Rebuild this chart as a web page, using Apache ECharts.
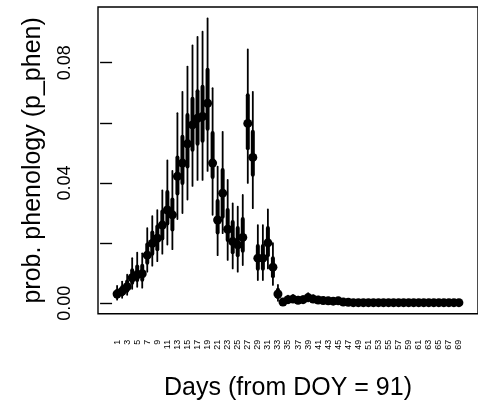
<!DOCTYPE html>
<html>
<head>
<meta charset="utf-8">
<script src="https://cdn.jsdelivr.net/npm/echarts@6/dist/echarts.min.js"></script>
<style>
html,body{margin:0;padding:0;background:#fff;}
#chart{width:478px;height:410px;}
</style>
</head>
<body>
<div id="chart"></div>
<script>
const days = [1,2,3,4,5,6,7,8,9,10,11,12,13,14,15,16,17,18,19,20,21,22,23,24,25,26,27,28,29,30,31,32,33,34,35,36,37,38,39,40,41,42,43,44,45,46,47,48,49,50,51,52,53,54,55,56,57,58,59,60,61,62,63,64,65,66,67,68,69];
const xTickLabels = [1,3,5,7,9,11,13,15,17,19,21,23,25,27,29,31,33,35,37,39,41,43,45,47,49,51,53,55,57,59,61,63,65,67,69];
const yTicks = [0, 0.02, 0.04, 0.06, 0.08];
const yTickLabels = [0, 0.04, 0.08];

const pPhen = [0.0031,0.0040,0.0055,0.0085,0.0095,0.0098,0.0160,0.0199,0.0216,0.0260,
  0.0310,0.0294,0.0422,0.0466,0.0530,0.0593,0.0615,0.0621,0.0665,0.0466,
  0.0277,0.0366,0.0246,0.0205,0.0194,0.0219,0.0598,0.0485,0.0150,0.0150,
  0.0201,0.0120,0.0031,0.0004,0.0012,0.0014,0.0010,0.0012,0.0019,0.0014,
  0.0011,0.0009,0.0008,0.0007,0.0008,0.0004,0.0003,0.0002,0.0002,0.0002,
  0.0002,0.0002,0.0002,0.0002,0.0002,0.0002,0.0002,0.0002,0.0002,0.0002,
  0.0002,0.0002,0.0002,0.0002,0.0002,0.0002,0.0002,0.0002,0.0002];

const outerLo = [0.0012,0.0018,0.0028,0.0048,0.0055,0.0052,0.0105,0.0125,0.0140,0.0165,
  0.0195,0.0180,0.0280,0.0300,0.0345,0.0390,0.0410,0.0410,0.0440,0.0294,
  0.0160,0.0233,0.0144,0.0116,0.0105,0.0127,0.0400,0.0316,0.0077,0.0077,
  0.0116,0.0061,0.0008,0.0001,0.0003,0.0004,0.0003,0.0003,0.0006,0.0004,
  0.0003,0.0002,0.0002,0.0002,0.0002,0.0001,0.0000,0.0000,0.0000,0.0000,
  0.0000,0.0000,0.0000,0.0000,0.0000,0.0000,0.0000,0.0000,0.0000,0.0000,
  0.0000,0.0000,0.0000,0.0000,0.0000,0.0000,0.0000,0.0000,0.0000];

const outerHi = [0.0058,0.0072,0.0095,0.0150,0.0168,0.0166,0.0250,0.0290,0.0310,0.0375,
  0.0475,0.0440,0.0632,0.0703,0.0787,0.0857,0.0886,0.0903,0.0947,0.0715,
  0.0454,0.0570,0.0410,0.0332,0.0321,0.0360,0.0844,0.0703,0.0260,0.0260,
  0.0312,0.0200,0.0061,0.0012,0.0025,0.0028,0.0022,0.0024,0.0034,0.0027,
  0.0022,0.0018,0.0016,0.0015,0.0016,0.0009,0.0006,0.0005,0.0005,0.0005,
  0.0005,0.0005,0.0005,0.0005,0.0005,0.0005,0.0005,0.0005,0.0005,0.0005,
  0.0005,0.0005,0.0005,0.0005,0.0005,0.0005,0.0005,0.0005,0.0005];

const innerLo = [0.0022,0.0029,0.0042,0.0068,0.0077,0.0078,0.0135,0.0165,0.0180,0.0215,
  0.0265,0.0245,0.0365,0.0400,0.0455,0.0510,0.0530,0.0540,0.0580,0.0420,
  0.0235,0.0288,0.0210,0.0170,0.0160,0.0175,0.0515,0.0427,0.0115,0.0115,
  0.0160,0.0090,0.0020,0.0002,0.0007,0.0008,0.0006,0.0007,0.0012,0.0008,
  0.0006,0.0005,0.0004,0.0004,0.0004,0.0002,0.0001,0.0001,0.0001,0.0001,
  0.0001,0.0001,0.0001,0.0001,0.0001,0.0001,0.0001,0.0001,0.0001,0.0001,
  0.0001,0.0001,0.0001,0.0001,0.0001,0.0001,0.0001,0.0001,0.0001];

const innerHi = [0.0042,0.0053,0.0072,0.0110,0.0122,0.0125,0.0195,0.0235,0.0255,0.0305,
  0.0370,0.0345,0.0485,0.0554,0.0626,0.0680,0.0705,0.0720,0.0776,0.0566,
  0.0340,0.0443,0.0310,0.0270,0.0250,0.0280,0.0692,0.0570,0.0190,0.0190,
  0.0250,0.0150,0.0045,0.0007,0.0018,0.0020,0.0015,0.0017,0.0025,0.0019,
  0.0015,0.0013,0.0011,0.0010,0.0011,0.0006,0.0004,0.0003,0.0003,0.0003,
  0.0003,0.0003,0.0003,0.0003,0.0003,0.0003,0.0003,0.0003,0.0003,0.0003,
  0.0003,0.0003,0.0003,0.0003,0.0003,0.0003,0.0003,0.0003,0.0003];

const seriesData = days.map((d, i) => [d, pPhen[i], outerLo[i], outerHi[i], innerLo[i], innerHi[i]]);

const chart = echarts.init(document.getElementById('chart'), null, {renderer: 'canvas'});
const FONT = '"Liberation Sans", Arial, Helvetica, sans-serif';

chart.setOption({
  animation: false,
  backgroundColor: '#fff',
  grid: {
    left: 98, top: 7, right: -5.6, bottom: 96.2,
    show: true, borderColor: '#000', borderWidth: 1.4, backgroundColor: 'transparent'
  },
  xAxis: {
    type: 'value',
    min: -2.8, max: 72.8,
    name: 'Days (from DOY = 91)',
    nameLocation: 'middle',
    nameGap: 62,
    nameTextStyle: {fontFamily: FONT, fontSize: 25, color: '#000'},
    axisLine: {show: false},
    splitLine: {show: false},
    axisTick: {show: false, customValues: xTickLabels},
    axisLabel: {
      customValues: xTickLabels,
      rotate: 90,
      margin: 26,
      fontFamily: FONT, fontSize: 9, color: '#000',
      formatter: v => String(v)
    }
  },
  yAxis: {
    type: 'value',
    min: -0.0035, max: 0.0985,
    name: 'prob. phenology (p_phen)',
    nameLocation: 'middle',
    nameGap: 52,
    nameTextStyle: {fontFamily: FONT, fontSize: 25, color: '#000'},
    axisLine: {show: false},
    splitLine: {show: false},
    axisTick: {show: true, customValues: yTicks, length: 12, lineStyle: {color: '#000', width: 1.4}},
    axisLabel: {
      customValues: yTickLabels,
      rotate: 90,
      margin: 24,
      fontFamily: FONT, fontSize: 18, color: '#000',
      formatter: v => v.toFixed(2)
    }
  },
  series: [{
    type: 'custom',
    data: seriesData,
    clip: false,
    renderItem: function (params, api) {
      const x = api.value(0);
      const c = api.coord([x, api.value(1)]);
      const oLo = api.coord([x, api.value(2)]);
      const oHi = api.coord([x, api.value(3)]);
      const iLo = api.coord([x, api.value(4)]);
      const iHi = api.coord([x, api.value(5)]);
      return {
        type: 'group',
        children: [
          {type: 'line', shape: {x1: oLo[0], y1: oLo[1], x2: oHi[0], y2: oHi[1]},
           style: {stroke: '#000', lineWidth: 1.8, lineCap: 'round'}},
          {type: 'line', shape: {x1: iLo[0], y1: iLo[1], x2: iHi[0], y2: iHi[1]},
           style: {stroke: '#000', lineWidth: 4, lineCap: 'round'}},
          {type: 'circle', shape: {cx: c[0], cy: c[1], r: 4.5},
           style: {fill: '#000', stroke: null}}
        ]
      };
    }
  }]
});
</script>
</body>
</html>
